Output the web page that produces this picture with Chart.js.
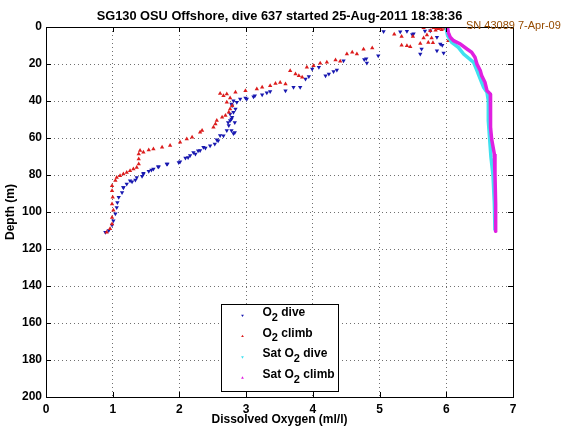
<!DOCTYPE html>
<html>
<head>
<meta charset="utf-8">
<script src="https://cdn.jsdelivr.net/npm/chart.js@4.4.0/dist/chart.umd.min.js"></script>
<style>
  html, body { margin: 0; padding: 0; background: #fff; }
</style>
</head>
<body>
<canvas id="oxyChart" width="570" height="430"></canvas>
<script>
// Text
const chartTitle = 'SG130 OSU Offshore, dive 637 started 25-Aug-2011 18:38:36';
const serialNote = 'SN 43089 7-Apr-09';
const xAxisTitle = 'Dissolved Oxygen (ml/l)';
const yAxisTitle = 'Depth (m)';
const seriesLabels = ['O₂ dive', 'O₂ climb', 'Sat O₂ dive', 'Sat O₂ climb'];

// Tick values
const xTickValues = [0, 1, 2, 3, 4, 5, 6, 7];
const yTickValues = [0, 20, 40, 60, 80, 100, 120, 140, 160, 180, 200];

// O2 on the dive (ml/l) and depth (m)
const diveO2 = [6.01, 5.06, 5.41, 5.31, 5.68, 5.76, 5.51, 5.49, 5.86, 5.91, 5.94, 5.63, 5.86, 5.96, 5.61,
  4.98, 4.80, 4.77, 4.46, 4.81, 4.09, 3.99, 4.36, 4.31, 4.24, 4.19, 3.94, 3.89, 3.81, 3.71,
  3.59, 3.36, 3.31, 3.24, 3.13, 3.11, 3.01, 2.99, 2.91, 2.86, 2.81, 2.78, 2.79, 2.84, 2.81,
  2.76, 2.79, 2.78, 2.76, 2.73, 2.83, 2.74, 2.71, 2.78, 2.83, 2.81, 2.61, 2.66, 2.58, 2.56,
  2.53, 2.46, 2.39, 2.36, 2.31, 2.28, 2.24, 2.21, 2.16, 2.13, 2.09, 2.01, 1.99, 1.82, 1.81,
  1.69, 1.68, 1.61, 1.58, 1.54, 1.46, 1.46, 1.44, 1.36, 1.34, 1.29, 1.26, 1.21, 1.16, 1.16,
  1.14, 1.09, 1.07, 1.06, 1.04, 1.01, 0.99, 0.94, 0.89];
const diveDepth = [1.1, 2.4, 2.3, 2.6, 2.2, 2.0, 3.6, 4.0, 5.6, 9.2, 9.8, 11.9, 12.8, 14.1, 14.6,
  15.5, 17.2, 17.6, 18.2, 19.4, 21.8, 22.7, 23.2, 24.0, 25.4, 26.3, 26.8, 28.1, 32.6, 32.6,
  34.4, 34.8, 35.5, 36.6, 37.1, 37.7, 38.9, 38.4, 38.9, 40.7, 39.8, 41.6, 42.5, 44.3, 46.1,
  47.0, 48.8, 49.7, 50.6, 51.6, 51.6, 53.3, 56.0, 56.0, 57.0, 57.5, 58.7, 58.8, 61.5, 61.0,
  63.2, 64.2, 65.4, 65.0, 66.8, 66.9, 68.6, 67.8, 69.5, 70.5, 70.8, 72.8, 73.2, 74.0, 74.1,
  75.5, 75.5, 76.8, 77.3, 78.0, 79.1, 79.5, 80.7, 81.3, 82.7, 83.6, 83.1, 84.9, 86.7, 86.7,
  89.4, 92.0, 94.8, 97.5, 101.0, 104.7, 107.0, 110.0, 111.0];

// O2 on the climb (ml/l) and depth (m)
const climbO2 = [5.96, 5.98, 5.91, 5.86, 5.88, 5.93, 5.81, 5.66, 5.76, 5.84, 5.71, 5.22, 5.33, 5.50, 5.66,
  5.78, 6.03, 5.61, 5.73, 5.80, 5.33, 5.41, 5.46, 4.89, 4.76, 4.59, 4.51, 4.66, 4.34, 4.41,
  4.21, 4.11, 4.01, 3.91, 3.66, 3.74, 3.79, 3.84, 3.51, 3.44, 3.59, 3.36, 3.24, 3.16, 2.99,
  2.84, 2.61, 2.71, 2.66, 2.76, 2.71, 2.79, 2.76, 2.74, 2.69, 2.64, 2.56, 2.54, 2.51, 2.34,
  2.31, 2.19, 2.11, 2.01, 1.86, 1.74, 1.61, 1.54, 1.41, 1.46, 1.39, 1.39, 1.39, 1.36, 1.31,
  1.26, 1.21, 1.16, 1.11, 1.06, 1.04, 0.99, 0.99, 1.00, 0.99, 1.01, 0.99, 0.99, 0.96, 0.91];
const climbDepth = [0.2, 0.8, 0.4, 0.6, 1.0, 1.5, 0.4, 0.4, 2.0, 1.8, 4.3, 3.9, 5.1, 5.2, 5.9,
  5.9, 7.4, 8.9, 8.4, 8.5, 9.8, 10.2, 10.7, 11.4, 12.0, 13.7, 14.6, 14.6, 17.8, 18.5,
  19.1, 19.6, 20.9, 21.8, 23.6, 25.4, 26.3, 27.2, 30.0, 30.5, 30.8, 31.7, 32.6, 33.5, 34.4,
  35.3, 35.9, 36.2, 37.1, 38.4, 40.7, 42.5, 44.3, 46.1, 47.9, 48.8, 50.6, 52.4, 54.2, 56.0,
  56.9, 59.6, 60.5, 62.3, 64.1, 65.0, 66.0, 66.5, 66.8, 67.7, 68.6, 71.4, 74.0, 75.9, 76.8,
  77.7, 78.6, 79.5, 80.4, 81.3, 83.0, 85.8, 88.5, 92.0, 95.7, 99.0, 103.0, 106.5, 109.0, 111.0];

// Saturation O2 (ml/l) and depth (m)
const satDiveO2 = [6.00, 6.00, 6.02, 6.08, 6.18, 6.26, 6.41, 6.46, 6.51, 6.56, 6.61, 6.63, 6.63, 6.65, 6.67, 6.70, 6.72, 6.73];
const satDiveDepth = [0, 1.1, 4.7, 8.3, 11.0, 14.6, 19.1, 23.6, 28.1, 32.6, 35.3, 39.8, 50.6, 60.6, 70.5, 80.0, 95.0, 110.0];
const satClimbO2 = [6.00, 6.02, 6.03, 6.06, 6.11, 6.21, 6.31, 6.38, 6.43, 6.46, 6.51, 6.53, 6.58, 6.61, 6.66, 6.66, 6.66, 6.67, 6.68, 6.72, 6.73, 6.74, 6.74];
const satClimbDepth = [0, 0.5, 2.9, 5.6, 7.4, 9.2, 11.9, 13.7, 16.4, 20.0, 23.6, 26.3, 29.9, 34.4, 36.2, 39.8, 47.0, 54.3, 60.6, 68.6, 79.5, 95.7, 111.0];

const fontFamily = "'Liberation Sans', Arial, Helvetica, sans-serif";
Chart.defaults.font.family = fontFamily;
Chart.defaults.color = '#000';

function toPoints(xs, ys) {
  return xs.map((x, i) => ({ x: x, y: ys[i] }));
}

// draws text where '₂' becomes a lowered smaller 2 (MATLAB style O_2)
function drawSubText(ctx, text, x, y, size) {
  let cx = x;
  for (const part of text.split(/(₂)/)) {
    if (!part) continue;
    if (part === '₂') {
      ctx.font = 'bold ' + (size - 1) + 'px ' + fontFamily;
      ctx.fillText('2', cx, y + 5);
      cx += ctx.measureText('2').width;
    } else {
      ctx.font = 'bold ' + size + 'px ' + fontFamily;
      ctx.fillText(part, cx, y);
      cx += ctx.measureText(part).width;
    }
  }
}

const matlabLook = {
  id: 'matlabLook',
  afterDraw(chart) {
    const ctx = chart.ctx;
    const area = chart.chartArea;
    const xs = chart.scales.x, ys = chart.scales.y;
    ctx.save();

    // frame and inward tick marks
    ctx.strokeStyle = '#000';
    ctx.lineWidth = 1;
    ctx.strokeRect(Math.round(area.left) + 0.5, Math.round(area.top) + 0.5,
      Math.round(area.right - area.left), Math.round(area.bottom - area.top));
    ctx.beginPath();
    xTickValues.forEach(v => {
      const px = Math.round(xs.getPixelForValue(v)) + 0.5;
      ctx.moveTo(px, area.top); ctx.lineTo(px, area.top + 5);
      ctx.moveTo(px, area.bottom); ctx.lineTo(px, area.bottom - 5);
    });
    yTickValues.forEach(v => {
      const py = Math.round(ys.getPixelForValue(v)) + 0.5;
      ctx.moveTo(area.left, py); ctx.lineTo(area.left + 5, py);
      ctx.moveTo(area.right, py); ctx.lineTo(area.right - 5, py);
    });
    ctx.stroke();

    // title
    ctx.fillStyle = '#000';
    ctx.font = 'bold 12.8px ' + fontFamily;
    ctx.textAlign = 'center';
    ctx.textBaseline = 'alphabetic';
    ctx.fillText(chartTitle, (area.left + area.right) / 2, 20);

    // serial number note
    ctx.fillStyle = '#964b00';
    ctx.font = '11px ' + fontFamily;
    ctx.textAlign = 'left';
    ctx.fillText(serialNote, area.right - 47, area.top + 2);

    // legend box
    const boxW = 117, boxH = 87;
    const bx = Math.round((area.left + area.right) / 2 - boxW / 2) + 0.5;
    const by = Math.round(area.bottom - 6 - boxH) + 0.5;
    ctx.fillStyle = '#fff';
    ctx.fillRect(bx, by, boxW, boxH);
    ctx.strokeStyle = '#000';
    ctx.strokeRect(bx, by, boxW, boxH);
    ctx.textBaseline = 'middle';
    chart.data.datasets.forEach((ds, i) => {
      const rowY = by + 8 + i * 20.8;
      ctx.fillStyle = ds.backgroundColor;
      Chart.helpers.drawPoint(ctx, { pointStyle: 'triangle', rotation: ds.pointRotation, radius: 1.6, borderWidth: 0 },
        bx + 21, rowY + 3);
      ctx.fillStyle = '#000';
      drawSubText(ctx, ds.label, bx + 41, rowY, 12);
    });
    ctx.restore();
  }
};

const ctx = document.getElementById('oxyChart').getContext('2d');

const data = {
  datasets: [{
    label: seriesLabels[0],
    data: toPoints(diveO2, diveDepth),
    backgroundColor: '#1818b0',
    borderColor: '#1818b0',
    pointStyle: 'triangle',
    pointRotation: 180,
    pointRadius: 2.5,
    pointBorderWidth: 0,
    showLine: false,
    order: 4
  }, {
    label: seriesLabels[1],
    data: toPoints(climbO2, climbDepth),
    backgroundColor: '#dc1c1c',
    borderColor: '#dc1c1c',
    pointStyle: 'triangle',
    pointRotation: 0,
    pointRadius: 2.5,
    pointBorderWidth: 0,
    showLine: false,
    order: 3
  }, {
    label: seriesLabels[2],
    data: toPoints(satDiveO2, satDiveDepth),
    backgroundColor: '#40e0f0',
    borderColor: '#40e0f0',
    pointStyle: 'triangle',
    pointRotation: 180,
    pointRadius: 1.5,
    pointBorderWidth: 0,
    showLine: true,
    borderWidth: 3.5,
    tension: 0,
    order: 2
  }, {
    label: seriesLabels[3],
    data: toPoints(satClimbO2, satClimbDepth),
    backgroundColor: '#e020e0',
    borderColor: '#e020e0',
    pointStyle: 'triangle',
    pointRotation: 0,
    pointRadius: 1.5,
    pointBorderWidth: 0,
    showLine: true,
    borderWidth: 3.5,
    tension: 0,
    order: 1
  }]
};

const options = {
  responsive: false,
  animation: false,
  devicePixelRatio: 1,
  layout: { padding: { top: 27, right: 57, left: 0, bottom: 0 } },
  plugins: {
    legend: { display: false },
    tooltip: { enabled: false },
    title: { display: false }
  },
  scales: {
    x: {
      type: 'linear',
      min: 0,
      max: 7,
      afterBuildTicks: s => { s.ticks = xTickValues.map(v => ({ value: v })); },
      afterFit: s => { s.height = 33; },
      ticks: { font: { size: 12, weight: 'bold' }, padding: 5, maxRotation: 0 },
      grid: { color: '#707070', lineWidth: 1, drawTicks: false },
      border: { display: false, dash: [1, 3] },
      title: { display: true, text: xAxisTitle, font: { size: 12, weight: 'bold' }, padding: { top: 0, bottom: 3 } }
    },
    y: {
      type: 'linear',
      reverse: true,
      min: 0,
      max: 200,
      afterBuildTicks: s => { s.ticks = yTickValues.map(v => ({ value: v })); },
      afterFit: s => { s.width = 46; },
      ticks: { font: { size: 12, weight: 'bold' }, padding: 4 },
      grid: { color: '#707070', lineWidth: 1, drawTicks: false },
      border: { display: false, dash: [1, 3] },
      title: { display: true, text: yAxisTitle, font: { size: 12, weight: 'bold' }, padding: { top: 3, bottom: 0 } }
    }
  }
};

const oxyChart = new Chart(ctx, {
  type: 'scatter',
  data: data,
  options: options,
  plugins: [matlabLook]
});
</script>
</body>
</html>
